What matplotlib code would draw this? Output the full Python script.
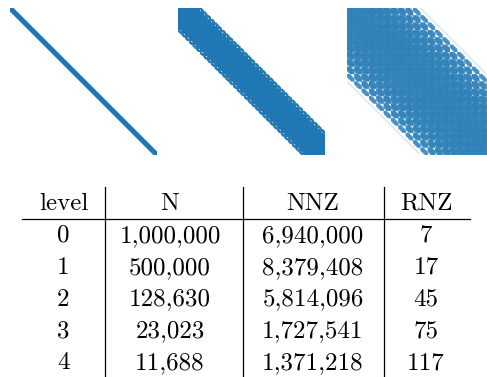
import numpy as np
import matplotlib
matplotlib.use("Agg")
import matplotlib.pyplot as plt

# ---------------- table data ----------------
levels = ["0", "1", "2", "3", "4"]
sizes_N = ["1,000,000", "500,000", "128,630", "23,023", "11,688"]
nnz_vals = ["6,940,000", "8,379,408", "5,814,096", "1,727,541", "1,371,218"]
rnz_vals = ["7", "17", "45", "75", "117"]
headers = ["level", "N", "NNZ", "RNZ"]

# ---------------- sparsity-pattern descriptions ----------------
# level 0: 7-point stencil on a 100^3 grid (N = 1,000,000, NNZ = 6,940,000)
grid0 = (100, 100, 100)
# coarser levels drawn as wider stencils on small grids (visual approximation)
grid1 = (6, 6, 40)
radius1 = 6.5
grid2 = (10, 10, 20)
radius2 = 10.0

BLUE = np.array([0x1f, 0x77, 0xb4]) / 255.0
BINS = 147


def stencil(radius, parity=False, manhattan=False):
    r = int(np.floor(radius))
    offs = []
    for dz in range(-r, r + 1):
        for dy in range(-r, r + 1):
            for dx in range(-r, r + 1):
                if manhattan:
                    if abs(dx) + abs(dy) + abs(dz) > radius:
                        continue
                elif dx * dx + dy * dy + dz * dz > radius * radius + 1e-9:
                    continue
                if parity and (dx + dy + dz) % 2 != 0:
                    continue
                offs.append((dx, dy, dz))
    return offs


def density(shape, offsets, bins=BINS, row_step=1):
    nx, ny, nz = shape
    N = nx * ny * nz
    rows = np.arange(0, N, row_step)
    x = rows % nx
    y = (rows // nx) % ny
    z = rows // (nx * ny)
    cnt = np.zeros(bins * bins)
    for dx, dy, dz in offsets:
        ok = ((x + dx >= 0) & (x + dx < nx) & (y + dy >= 0) & (y + dy < ny)
              & (z + dz >= 0) & (z + dz < nz))
        r = rows[ok]
        c = r + dx + dy * nx + dz * nx * ny
        cnt += np.bincount((r * bins // N) * bins + c * bins // N,
                           minlength=bins * bins)
    return cnt.reshape(bins, bins) / ((N / row_step / bins) * (N / bins))


def dilate(m, k):
    out = m.copy()
    n = m.shape[0]
    p = np.pad(m, k)
    for s in range(2 * k + 1):
        for t in range(2 * k + 1):
            out = np.maximum(out, p[s:s + n, t:t + n])
    return out


def to_rgb(intensity):
    return 1 - intensity[..., None] * (1 - BLUE)


SS = 4  # supersampling for the thin level-0 band
d0 = density(grid0, stencil(1, manhattan=True), bins=BINS * SS, row_step=10)
m0 = dilate((d0 > 0).astype(float), 4)
m0 = m0.reshape(BINS, SS, BINS, SS).mean(axis=(1, 3))
img0 = to_rgb(m0)
img1 = to_rgb(1 - np.exp(-6 * density(grid1, stencil(radius1))))
img2 = to_rgb(1 - np.exp(-5 * density(grid2, stencil(radius2, parity=True))))

W, H = 487, 377
fig = plt.figure(figsize=(W / 100, H / 100), dpi=100)


def px_axes(x0, y0, x1, y1):
    return fig.add_axes([x0 / W, 1 - y1 / H, (x1 - x0) / W, (y1 - y0) / H])


for img, (x0, x1) in zip([img0, img1, img2], [(10, 157), (178, 325), (347, 494)]):
    ax = px_axes(x0, 8, x1, 155)
    ax.imshow(img, aspect="auto", interpolation="nearest")
    ax.set_axis_off()

# ---------------- table ----------------
tab = fig.add_axes([0, 0, 1, 1], zorder=-1)
tab.set_xlim(0, W)
tab.set_ylim(H, 0)
tab.set_axis_off()

col_x = [63.5, 170, 313, 426]
header_base = 210
row_base = [242, 274, 305.5, 337, 369]
fs = 18
font = dict(family="cmr10", fontsize=fs, ha="center", va="baseline", color="black")

for cx, h in zip(col_x, headers):
    tab.text(cx, header_base, h, **font)
columns = [levels, sizes_N, nnz_vals, rnz_vals]
for cx, col in zip(col_x, columns):
    for yb, val in zip(row_base, col):
        tab.text(cx, yb, val, **font)

tab.plot([22, 470], [219, 219], color="black", lw=0.9)
for vx in [105, 243, 384]:
    tab.plot([vx, vx], [187, 377], color="black", lw=0.9)

fig.savefig("out.png", dpi=100)
